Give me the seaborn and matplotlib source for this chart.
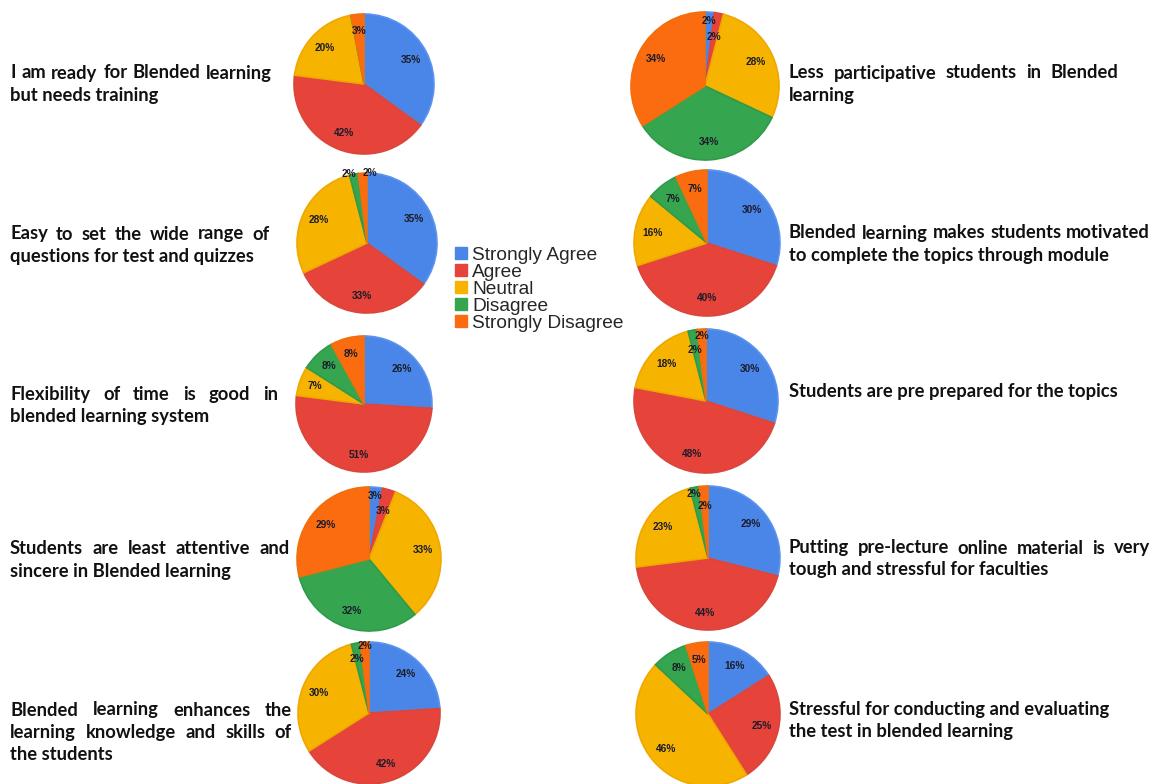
import matplotlib
matplotlib.use("Agg")
import numpy as np
import matplotlib.pyplot as plt
from matplotlib.patches import Patch
import seaborn as sns

sns.set_theme(style="white")
plt.rcParams['font.family'] = ['Lato', 'DejaVu Sans']

categories = ["Strongly Agree", "Agree", "Neutral", "Disagree", "Strongly Disagree"]
colors = ["#4a86e8", "#e6433a", "#f6b400", "#36a550", "#fb6b0f"]
edge_colors = ["#5b93ee", "#d9463c", "#f0a800", "#2f9a49", "#f0700c"]

left_questions = [
    ["I am ready for Blended learning", "but needs training"],
    ["Easy to set the wide range of", "questions for test and quizzes"],
    ["Flexibility of time is good in", "blended learning system"],
    ["Students are least attentive and", "sincere in Blended learning"],
    ["Blended learning enhances the", "learning knowledge and skills of", "the students"],
]
left_values = [
    [35, 42, 20, 0, 3],
    [35, 33, 28, 2, 2],
    [26, 51, 7, 8, 8],
    [3, 3, 33, 32, 29],
    [24, 42, 30, 2, 2],
]
right_questions = [
    ["Less participative students in Blended", "learning"],
    ["Blended learning makes students motivated", "to complete the topics through module"],
    ["Students are pre prepared for the topics"],
    ["Putting pre-lecture online material is very", "tough and stressful for faculties"],
    ["Stressful for conducting and evaluating", "the test in blended learning"],
]
right_values = [
    [2, 2, 28, 34, 34],
    [30, 40, 16, 7, 7],
    [30, 48, 18, 2, 2],
    [29, 44, 23, 2, 2],
    [16, 25, 46, 8, 5],
]

W, H = 1152, 784
fig = plt.figure(figsize=(W / 100, H / 100), dpi=100)
fig.patch.set_facecolor("white")
renderer = fig.canvas.get_renderer()


def fx(x):
    return x / W


def fy(y):
    return 1 - y / H


def draw_pie(cx, cy, r, vals, small_dist=None):
    pad = 1.04
    ax = fig.add_axes([fx(cx - r * pad), fy(cy + r * pad), 2 * r * pad / W, 2 * r * pad / H])
    wedges, texts, autotexts = ax.pie(
        vals, colors=colors, startangle=90, counterclock=False,
        autopct=lambda p: f"{p:.0f}%" if p > 0.5 else "", pctdistance=0.76,
        wedgeprops=dict(linewidth=1.2),
        textprops=dict(fontsize=7.3, fontweight="bold", color="#1c1c2a",
                       family="Liberation Sans"),
    )
    for w, ec in zip(wedges, edge_colors):
        w.set_edgecolor(ec)
    # stagger labels of tiny slices so they don't collide
    if small_dist:
        for i, (d, dx) in small_dist.items():
            w = wedges[i]
            ang = np.deg2rad((w.theta1 + w.theta2) / 2)
            autotexts[i].set_position((d * np.cos(ang) + dx, d * np.sin(ang)))
    ax.set_xlim(-pad, pad)
    ax.set_ylim(-pad, pad)
    ax.axis("off")


text_kw = dict(fontsize=13.2, fontweight="bold", color="#111111", va="baseline", ha="left")
BASE = 4.5


def draw_line(line, x0, x1, y, justify):
    if not justify:
        fig.text(fx(x0), fy(y + BASE), line, **text_kw)
        return
    words = line.split()
    texts = [fig.text(0, fy(y + BASE), w, **text_kw) for w in words]
    widths = [t.get_window_extent(renderer).width for t in texts]
    gap = (x1 - x0 - sum(widths)) / (len(words) - 1)
    x = x0
    for t, wd in zip(texts, widths):
        t.set_x(fx(x))
        x += wd + gap


left_pies = [(364, 84, 70), (367, 243, 70), (364, 404, 68), (369, 559, 72), (369, 713, 71)]
right_pies = [(705, 86, 74), (707, 243, 73), (706, 401, 72), (708, 558, 72), (708, 714, 72)]

left_small = [None, {3: (1.0, -0.07), 4: (1.0, 0.1)}, None,
              {0: (0.88, 0.0), 1: (0.7, 0.0)}, {3: (0.78, -0.02), 4: (0.94, 0.0)}]
right_small = [{0: (0.88, 0.0), 1: (0.68, 0.0)}, None,
               {3: (0.72, -0.02), 4: (0.9, 0.0)}, {3: (0.9, -0.02), 4: (0.72, 0.0)}, None]

left_text_y = [74, 235, 395, 550, 711]
left_right_edge = [272, 270, 278, 290, 292]
right_text_y = [74, 234, 392, 549, 711]
right_right_edge = [1118, 1150, None, 1150, None]

for (cx, cy, r), vals, sd in zip(left_pies, left_values, left_small):
    draw_pie(cx, cy, r, vals, sd)
for (cx, cy, r), vals, sd in zip(right_pies, right_values, right_small):
    draw_pie(cx, cy, r, vals, sd)

for lines, y0, xr in zip(left_questions, left_text_y, left_right_edge):
    for i, line in enumerate(lines):
        last = i == len(lines) - 1
        draw_line(line, 10, xr, y0 + 22.5 * i, justify=not last)

for lines, y0, xr in zip(right_questions, right_text_y, right_right_edge):
    for i, line in enumerate(lines):
        last = i == len(lines) - 1
        draw_line(line, 789, xr, y0 + 22 * i, justify=(not last) and xr is not None)

handles = [Patch(facecolor=c, edgecolor=c) for c in colors]
fig.legend(handles, categories, loc="upper left", bbox_to_anchor=(fx(455), fy(247)),
           frameon=False, handlelength=0.6, handleheight=0.6,
           handletextpad=0.3, labelspacing=0.0, borderpad=0, borderaxespad=0,
           prop=dict(family="Liberation Sans", size=13.8))

fig.savefig("out.png", dpi=100, facecolor="white")
